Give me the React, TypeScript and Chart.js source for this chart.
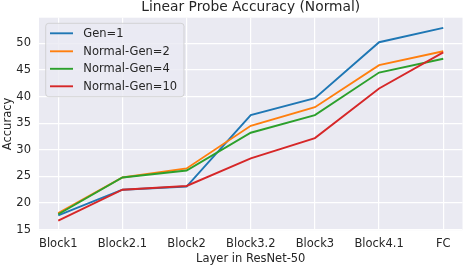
import React, { useEffect, useRef } from "react";
import { Chart, registerables } from "chart.js";

Chart.register(...registerables);

const categories = ["Block1", "Block2.1", "Block2", "Block3.2", "Block3", "Block4.1", "FC"];
const gen1 = [17.7, 22.5, 23.1, 36.5, 39.7, 50.2, 52.9];
const normalGen2 = [18.1, 24.8, 26.5, 34.5, 38.0, 45.9, 48.5];
const normalGen4 = [17.9, 24.8, 26.1, 33.2, 36.5, 44.5, 47.1];
const normalGen10 = [16.7, 22.5, 23.2, 28.4, 32.2, 41.5, 48.3];
const seriesNames = ["Gen=1", "Normal-Gen=2", "Normal-Gen=4", "Normal-Gen=10"];
const yTicks = [15, 20, 25, 30, 35, 40, 45, 50];
const titleText = "Linear Probe Accuracy (Normal)";
const xTitle = "Layer in ResNet-50";
const yTitle = "Accuracy";

const colors = ["#1f77b4", "#ff7f0e", "#2ca02c", "#d62728"];
const FONT = "'DejaVu Sans', sans-serif";
const TEXT = "#262626";

export default function App() {
  const ref = useRef<HTMLCanvasElement | null>(null);
  useEffect(() => {
    if (!ref.current) return;
    const series = [gen1, normalGen2, normalGen4, normalGen10];
    const decor = {
      id: "decor",
      beforeDraw(chart: any) {
        const { ctx, chartArea: a } = chart;
        ctx.save();
        ctx.fillStyle = "#eaeaf2";
        ctx.fillRect(a.left, a.top, a.right - a.left, a.bottom - a.top);
        ctx.restore();
      },
      afterDraw(chart: any) {
        const { ctx, chartArea: a } = chart;
        ctx.save();
        ctx.fillStyle = TEXT;
        // title
        ctx.font = `13.8px ${FONT}`;
        ctx.textAlign = "center";
        ctx.textBaseline = "alphabetic";
        ctx.fillText(titleText, (a.left + a.right) / 2, 11);
        // x title
        ctx.font = `11.5px ${FONT}`;
        ctx.fillText(xTitle, (a.left + a.right) / 2, 262);
        // y title
        ctx.save();
        ctx.translate(10.5, (a.top + a.bottom) / 2);
        ctx.rotate(-Math.PI / 2);
        ctx.fillText(yTitle, 0, 0);
        ctx.restore();
        // legend
        const lx = 45.7, ly = 23.3, lw = 138.3, lh = 73.4, r = 3;
        ctx.beginPath();
        ctx.moveTo(lx + r, ly);
        ctx.lineTo(lx + lw - r, ly);
        ctx.arcTo(lx + lw, ly, lx + lw, ly + r, r);
        ctx.lineTo(lx + lw, ly + lh - r);
        ctx.arcTo(lx + lw, ly + lh, lx + lw - r, ly + lh, r);
        ctx.lineTo(lx + r, ly + lh);
        ctx.arcTo(lx, ly + lh, lx, ly + lh - r, r);
        ctx.lineTo(lx, ly + r);
        ctx.arcTo(lx, ly, lx + r, ly, r);
        ctx.closePath();
        ctx.fillStyle = "rgba(234,234,242,0.8)";
        ctx.fill();
        ctx.strokeStyle = "rgba(204,204,204,0.8)";
        ctx.lineWidth = 1;
        ctx.stroke();
        const rows = [33.3, 51.3, 68.8, 86.3];
        ctx.textAlign = "left";
        ctx.textBaseline = "middle";
        ctx.font = `11.5px ${FONT}`;
        seriesNames.forEach((name, i) => {
          ctx.strokeStyle = colors[i];
          ctx.lineWidth = 1.9;
          ctx.beginPath();
          ctx.moveTo(50, rows[i]);
          ctx.lineTo(73, rows[i]);
          ctx.stroke();
          ctx.fillStyle = TEXT;
          ctx.fillText(name, 83.3, rows[i] + 0.5);
        });
        ctx.restore();
      },
    };
    const chart = new Chart(ref.current, {
      type: "line",
      data: {
        datasets: series.map((s, i) => ({
          label: seriesNames[i],
          data: s.map((v, j) => ({ x: j, y: v })),
          borderColor: colors[i],
          backgroundColor: colors[i],
          borderWidth: 1.9,
          pointRadius: 0,
          tension: 0,
          order: 3 - i,
        })),
      },
      options: {
        responsive: false,
        animation: false,
        layout: { padding: { top: 17.7, right: 0.5, left: 0, bottom: 0 } },
        plugins: { legend: { display: false }, title: { display: false }, tooltip: { enabled: false } },
        scales: {
          x: {
            type: "linear",
            min: -0.3,
            max: 6.3,
            afterFit: (s: any) => { s.height = 35.8; },
            afterBuildTicks: (s: any) => { s.ticks = categories.map((_, i) => ({ value: i })); },
            ticks: {
              stepSize: 1,
              includeBounds: false,
              autoSkip: false,
              maxRotation: 0,
              minRotation: 0,
              padding: 7,
              color: TEXT,
              font: { family: FONT, size: 11.5 },
              callback: (v: any) => categories[Number(v)] ?? "",
            },
            grid: { color: "#ffffff", lineWidth: 1.2, drawTicks: false, tickLength: 0 },
            border: { display: false },
          },
          y: {
            type: "linear",
            min: 14.9,
            max: 54.8,
            afterFit: (s: any) => { s.width = 39; },
            afterBuildTicks: (s: any) => { s.ticks = yTicks.map((v) => ({ value: v })); },
            ticks: {
              includeBounds: false,
              padding: 8,
              color: TEXT,
              font: { family: FONT, size: 11.5 },
            },
            grid: { color: "#ffffff", lineWidth: 1.2, drawTicks: false, tickLength: 0 },
            border: { display: false },
          },
        },
      },
      plugins: [decor],
    });
    return () => chart.destroy();
  }, []);
  return (
    <div style={{ position: "fixed", left: 0, top: 0, width: 463, height: 266, background: "#fff" }}>
      <canvas ref={ref} width={463} height={266} style={{ width: 463, height: 266 }} />
    </div>
  );
}
